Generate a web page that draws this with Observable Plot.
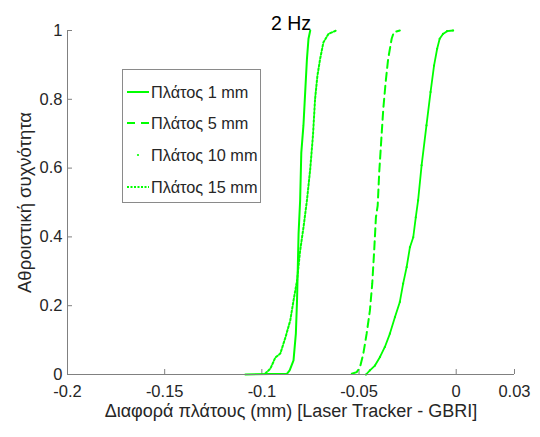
<!DOCTYPE html>
<html>
<head>
<meta charset="utf-8">
<script src="https://cdn.jsdelivr.net/npm/d3@7"></script>
<script src="https://cdn.jsdelivr.net/npm/@observablehq/plot@0.6"></script>
<style>
  body { margin: 0; background: white; }
  #wrap { position: relative; width: 540px; height: 437px; font-family: "Liberation Sans", Arial, sans-serif; }
  #legend { position: absolute; left: 122px; top: 69px; width: 139px; height: 134px; border: 1px solid #8a8a8a; background: white; box-sizing: border-box; }
  .row { position: absolute; left: 0; height: 20px; display: flex; align-items: center; font-size: 16.3px; color: #262626; white-space: nowrap; }
  .row svg { margin-left: 4px; margin-right: 2px; }
</style>
</head>
<body>
<div id="wrap"></div>
<script>
// ---- data ----
const title = "2 Hz";
const xLabel = "Διαφορά πλάτους (mm) [Laser Tracker - GBRI]";
const yLabel = "Αθροιστική συχνότητα";
const xTicks = [-0.2, -0.15, -0.1, -0.05, 0, 0.03];
const yTicks = [0, 0.2, 0.4, 0.6, 0.8, 1];
const seriesNames = ["Πλάτος 1 mm", "Πλάτος 5 mm", "Πλάτος 10 mm", "Πλάτος 15 mm"];

const x1mm = [-0.1085, -0.0871, -0.0857, -0.0837, -0.0825, -0.0819, -0.0811, -0.0803, -0.0797, -0.0786, -0.0777, -0.0768, -0.0760, -0.0751];
const y1mm = [0, 0.002, 0.012, 0.041, 0.119, 0.215, 0.41, 0.506, 0.645, 0.724, 0.821, 0.917, 0.976, 1.0];

const x5mm = [-0.0537, -0.0512, -0.0495, -0.0478, -0.0461, -0.0444, -0.0432, -0.0422, -0.0413, -0.0404, -0.0396, -0.0384, -0.0375, -0.0363, -0.0350, -0.0332, -0.0321, -0.0290];
const y5mm = [0.002, 0.007, 0.021, 0.060, 0.118, 0.186, 0.264, 0.360, 0.457, 0.491, 0.588, 0.695, 0.773, 0.850, 0.918, 0.976, 0.995, 1.0];

const x10mm = [-0.0464, -0.0444, -0.0418, -0.0392, -0.0367, -0.0341, -0.0315, -0.0290, -0.0273, -0.0255, -0.0238, -0.0221, -0.0208, -0.0196, -0.0178, -0.0153, -0.0132, -0.0114, -0.0098, -0.0085, -0.0068, -0.0047, -0.0016];
const y10mm = [0.0, 0.012, 0.026, 0.051, 0.080, 0.119, 0.167, 0.211, 0.264, 0.312, 0.370, 0.399, 0.457, 0.506, 0.608, 0.724, 0.821, 0.898, 0.947, 0.976, 0.990, 0.998, 1.0];

const x15mm = [-0.0982, -0.0956, -0.0931, -0.0905, -0.0879, -0.0854, -0.0837, -0.0819, -0.0803, -0.0786, -0.0768, -0.0751, -0.0737, -0.0726, -0.0714, -0.0700, -0.0683, -0.0657, -0.0618];
const y15mm = [0.003, 0.017, 0.049, 0.061, 0.107, 0.157, 0.215, 0.273, 0.360, 0.427, 0.506, 0.598, 0.695, 0.802, 0.869, 0.918, 0.966, 0.990, 1.0];

const green = "#00ff00";
const toRows = (xs, ys) => xs.map((x, i) => ({x, y: ys[i]}));
const d1 = toRows(x1mm, y1mm), d5 = toRows(x5mm, y5mm), d10 = toRows(x10mm, y10mm), d15 = toRows(x15mm, y15mm);

const font = '"Liberation Sans", Arial, sans-serif';
const plot = Plot.plot({
  width: 540, height: 437,
  marginLeft: 67, marginRight: 26, marginTop: 30, marginBottom: 63,
  x: {domain: [-0.2, 0.03]},
  y: {domain: [0, 1]},
  style: {fontFamily: font, fontSize: "16.5px", color: "#262626", background: "white"},
  marks: [
    Plot.axisX({ticks: xTicks, tickSize: 0, tickPadding: 10.5, tickFormat: d => String(d), label: null, fontSize: 16.5}),
    Plot.axisY({ticks: yTicks, tickSize: 0, tickPadding: 5, tickFormat: d => String(d), label: null, fontSize: 16.5}),
    Plot.tickX(xTicks, {x: d => d, stroke: "#808080", insetTop: 339}),
    Plot.tickY(yTicks, {y: d => d, stroke: "#808080", insetRight: 442}),
    Plot.line(d1, {x: "x", y: "y", stroke: green, strokeWidth: 2}),
    Plot.line(d5, {x: "x", y: "y", stroke: green, strokeWidth: 2, strokeDasharray: "8,5"}),
    Plot.line(d10, {x: "x", y: "y", stroke: green, strokeWidth: 1.8}),
    Plot.dot(d10, {x: "x", y: "y", fill: green, r: 1.1}),
    Plot.line(d15, {x: "x", y: "y", stroke: green, strokeWidth: 2, strokeDasharray: "2,2"}),
    Plot.ruleY([0], {stroke: "#808080"}),
    Plot.ruleX([-0.2], {stroke: "#808080"}),
    Plot.text([title], {frameAnchor: "top", dy: -14, fontSize: 19.5, fill: "black"}),
    Plot.text([xLabel], {frameAnchor: "bottom", dy: 42.5, fontSize: 18, fill: "#262626"}),
    Plot.text([yLabel], {frameAnchor: "left", textAnchor: "middle", dx: -42, rotate: -90, fontSize: 18.5, fill: "#262626"})
  ]
});
const wrap = document.getElementById("wrap");
wrap.appendChild(plot);

// legend
const legend = document.createElement("div");
legend.id = "legend";
const samples = [
  `<line x1="0" y1="5" x2="22" y2="5" stroke="${green}" stroke-width="2"/>`,
  `<line x1="0" y1="5" x2="22" y2="5" stroke="${green}" stroke-width="2" stroke-dasharray="8,6"/>`,
  `<circle cx="11" cy="5" r="1.1" fill="${green}"/>`,
  `<line x1="0" y1="5" x2="22" y2="5" stroke="${green}" stroke-width="2" stroke-dasharray="2,1.5"/>`
];
const rowTops = [12, 43, 75, 107];
seriesNames.forEach((name, i) => {
  const row = document.createElement("div");
  row.className = "row";
  row.style.top = rowTops[i] + "px";
  row.innerHTML = `<svg width="22" height="10">${samples[i]}</svg><span>${name}</span>`;
  legend.appendChild(row);
});
wrap.appendChild(legend);
</script>
</body>
</html>
